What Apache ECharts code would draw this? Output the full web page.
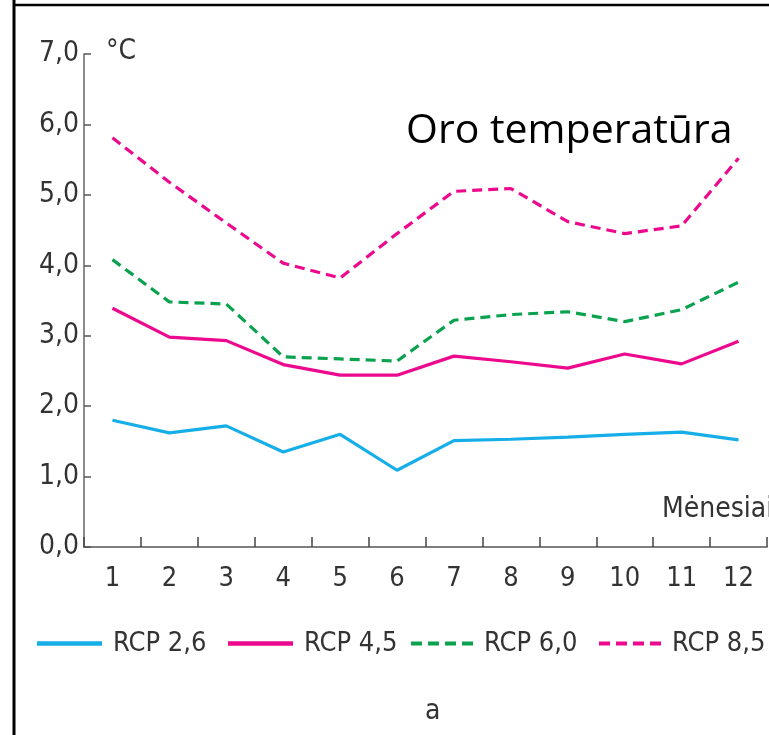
<!DOCTYPE html>
<html>
<head>
<meta charset="utf-8">
<script src="https://cdn.jsdelivr.net/npm/echarts@6/dist/echarts.min.js"></script>
<style>
html,body{margin:0;padding:0;background:#fff;}
#chart{width:769px;height:735px;}
</style>
</head>
<body>
<div id="chart"></div>
<script>
const months = ['1','2','3','4','5','6','7','8','9','10','11','12'];
const seriesNames = ['RCP 2,6','RCP 4,5','RCP 6,0','RCP 8,5'];
const rcp26 = [1.80,1.62,1.72,1.35,1.60,1.09,1.51,1.53,1.56,1.60,1.63,1.52];
const rcp45 = [3.39,2.98,2.93,2.59,2.44,2.44,2.71,2.63,2.54,2.74,2.60,2.92];
const rcp60 = [4.08,3.48,3.45,2.70,2.67,2.64,3.22,3.30,3.34,3.20,3.37,3.76];
const rcp85 = [5.81,5.18,4.60,4.03,3.82,4.45,5.05,5.09,4.62,4.45,4.56,5.52];
const yTicks = [0,1,2,3,4,5,6,7];

const FONT = "'Liberation Sans Narrow','DejaVu Sans Condensed',sans-serif";
const BLUE = '#16aee8', PINK = '#ec098d', GREEN = '#0aa24e';

const chart = echarts.init(document.getElementById('chart'), null, {renderer:'canvas'});

function mkSeries(name, data, color, type){
  return {
    name, type:'line', data, symbol:'none', smooth:false,
    lineStyle:{color, width:3.2, type: type},
    itemStyle:{color}
  };
}
const legendX = [37, 228, 411, 599];
const SOLID_ICON = 'rect';
const DASH_ICON = 'path://M0,0h11v4h-11z M17,0h11v4h-11z M34,0h11v4h-11z M51,0h11v4h-11z';
const legendIcons = [SOLID_ICON, SOLID_ICON, DASH_ICON, DASH_ICON];

chart.setOption({
  animation:false,
  backgroundColor:'#fff',
  grid:{left:84, right:2, top:54, bottom:188, containLabel:false},
  xAxis:{
    type:'category', data:months, boundaryGap:true,
    axisLine:{show:true, lineStyle:{color:'#555', width:1.5}},
    axisTick:{show:true, inside:true, length:10, lineStyle:{color:'#444', width:1.5}},
    axisLabel:{fontFamily:FONT, fontSize:27, color:'#333', margin:18},
    splitLine:{show:false}
  },
  yAxis:{
    type:'value', min:yTicks[0], max:yTicks[yTicks.length-1], interval:1,
    axisLine:{show:true, lineStyle:{color:'#666', width:1.5}},
    axisTick:{show:true, inside:true, length:7, lineStyle:{color:'#555', width:1.5}},
    axisLabel:{fontFamily:FONT, fontSize:28, color:'#333', margin:5,
      formatter:v=>v.toFixed(1).replace('.',',')},
    splitLine:{show:false}
  },
  legend: seriesNames.map((n,i)=>({
    data:[{name:n, icon:legendIcons[i]}], left:legendX[i], top:630,
    itemWidth:(i<2?65:62), itemHeight:4.5, itemGap:0,
    textStyle:{fontFamily:FONT, fontSize:27, color:'#333', padding:[0,0,0,6]},
    padding:0
  })),
  series:[
    mkSeries(seriesNames[0], rcp26, BLUE, 'solid'),
    mkSeries(seriesNames[1], rcp45, PINK, 'solid'),
    mkSeries(seriesNames[2], rcp60, GREEN, [10,6]),
    mkSeries(seriesNames[3], rcp85, PINK, [10,6])
  ],
  graphic:[
    {type:'line', shape:{x1:14, y1:0, x2:14, y2:735}, style:{stroke:'#000', lineWidth:3}},
    {type:'line', shape:{x1:13, y1:5, x2:769, y2:5}, style:{stroke:'#000', lineWidth:2.5}},
    {type:'text', left:106, top:38, style:{text:'°C', font:"28px "+FONT, fill:'#333'}},
    {type:'text', left:406, top:111, style:{text:'Oro temperatūra', font:"41px 'Open Sans'", fill:'#000'}},
    {type:'text', left:662, top:496, style:{text:'Mėnesiai', font:"28px "+FONT, fill:'#333'}},
    {type:'text', left:425, top:698, style:{text:'a', font:"28px "+FONT, fill:'#333'}}
  ]
});
</script>
</body>
</html>
